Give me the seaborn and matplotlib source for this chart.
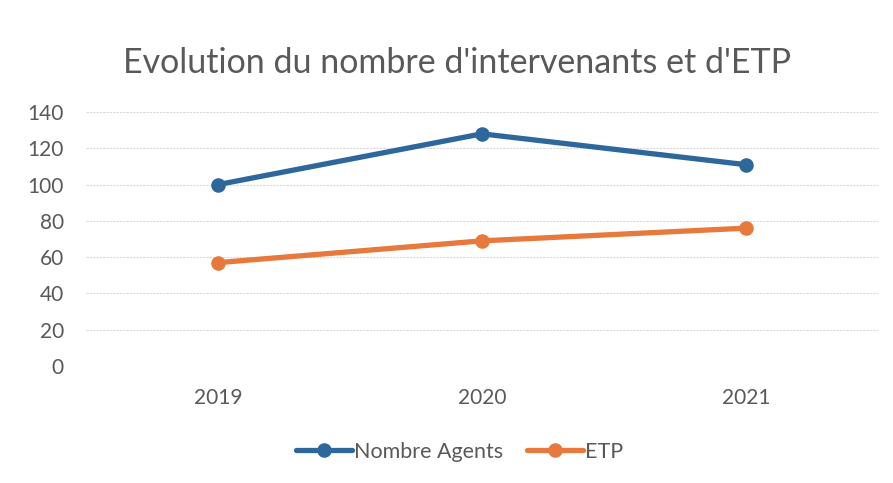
import pandas as pd
import matplotlib.pyplot as plt
import seaborn as sns

# Données du graphique
annees = ["2019", "2020", "2021"]
nombre_agents = [100, 128, 111]
etp = [57, 69, 76]

df = pd.DataFrame({
    "Année": annees * 2,
    "Valeur": nombre_agents + etp,
    "Série": ["Nombre Agents"] * 3 + ["ETP"] * 3,
})

sns.set_style("white")
plt.rcParams['font.family'] = ['Lato', 'DejaVu Sans']

fig = plt.figure(figsize=(8.93, 4.83), dpi=100)
ax = fig.add_axes([0.0963, 0.2422, 0.8867, 0.5258])

couleurs = {"Nombre Agents": "#2D679C", "ETP": "#E6793B"}
sns.lineplot(data=df, x="Année", y="Valeur", hue="Série", palette=couleurs,
             marker="o", markersize=10.5, linewidth=3.8, markeredgewidth=0,
             sort=False, ax=ax, legend=False)

ax.set_xlim(-0.5, 2.5)
ax.set_ylim(0, 140)
ax.set_yticks(range(0, 141, 20))
ax.grid(axis="y", color="#D9D9D9", linewidth=0.8, linestyle=(0, (2, 1)))
ax.set_axisbelow(True)
for s in ax.spines.values():
    s.set_visible(False)
ax.tick_params(axis="both", length=0, labelsize=15, labelcolor="#595959")
ax.tick_params(axis="x", pad=16)
ax.tick_params(axis="y", pad=16)
ax.set_xlabel("")
ax.set_ylabel("")

fig.suptitle("Evolution du nombre d'intervenants et d'ETP", x=0.512, y=0.903,
             fontsize=24.5, color="#595959")

handles = [plt.Line2D([], [], color=couleurs[k], marker="o", markersize=10.5,
                      linewidth=3.8, markeredgewidth=0) for k in ["Nombre Agents", "ETP"]]
fig.legend(handles, ["Nombre Agents", "ETP"], loc="center", bbox_to_anchor=(0.515, 0.065),
           ncol=2, frameon=False, fontsize=15.5, labelcolor="#595959",
           handlelength=2.6, handletextpad=0.1, columnspacing=1.1)

fig.savefig("out.png", dpi=100)
